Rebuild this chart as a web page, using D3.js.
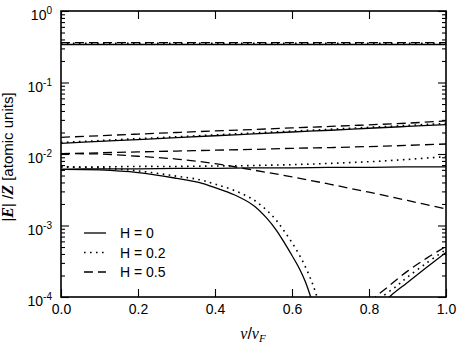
<!DOCTYPE html>
<html><head><meta charset="utf-8">
<script src="https://cdn.jsdelivr.net/npm/d3@7/dist/d3.min.js"></script>
<style>
body{margin:0;background:#fff;}
svg{display:block;font-family:"Liberation Sans",Arial,sans-serif;}
</style></head>
<body><svg id="c" width="458" height="346"></svg>
<script>
// ---- data ----
const xTicks = [0, 0.2, 0.4, 0.6, 0.8, 1.0];
const yTickExps = [0, -1, -2, -3, -4];
const legendLabels = ["H = 0", "H = 0.2", "H = 0.5"];
const xGrid = [0, 0.1, 0.2, 0.3, 0.4, 0.5, 0.6, 0.7, 0.8, 0.9, 1.0];

// H = 0 (solid)
const h0Top   = [0.340, 0.340, 0.340, 0.340, 0.340, 0.340, 0.340, 0.340, 0.340, 0.340, 0.340];
const h0Upper = [0.0141, 0.0150, 0.0159, 0.0169, 0.0180, 0.0191, 0.0203, 0.0215, 0.0229, 0.0243, 0.0258];
const h0Flat  = [0.0061, 0.0062, 0.0062, 0.0063, 0.0063, 0.0064, 0.0064, 0.0065, 0.0065, 0.0066, 0.0066];
const h0FallX = [0, 0.1, 0.2, 0.3, 0.36, 0.4, 0.45, 0.5, 0.535, 0.56, 0.58, 0.6, 0.62, 0.635, 0.648, 0.66];
const h0FallY = [0.0061, 0.0060, 0.0055, 0.00457, 0.00398, 0.00339, 0.00269, 0.00191, 0.00126, 0.00085, 0.000575, 0.00038, 0.000245, 0.000162, 0.000102, 0.000063];
const h0RiseX = [0.84, 0.853, 0.9, 0.95, 1.0];
const h0RiseY = [0.00008, 0.0001, 0.00016, 0.00026, 0.00042];

// H = 0.2 (dotted)
const h2Top   = [0.352, 0.352, 0.352, 0.352, 0.352, 0.352, 0.352, 0.352, 0.352, 0.352, 0.352];
const h2Upper = [0.0145, 0.0154, 0.0164, 0.0174, 0.0185, 0.0197, 0.0209, 0.0222, 0.0236, 0.0251, 0.0268];
const h2Lower = [0.0066, 0.0066, 0.0067, 0.0067, 0.0068, 0.0069, 0.0071, 0.0074, 0.0078, 0.0084, 0.0092];
const h2FallX = [0, 0.1, 0.2, 0.3, 0.36, 0.4, 0.45, 0.5, 0.535, 0.56, 0.58, 0.6, 0.62, 0.64, 0.655, 0.665, 0.675];
const h2FallY = [0.0066, 0.0064, 0.0058, 0.0049, 0.00437, 0.0038, 0.00309, 0.00229, 0.00162, 0.00117, 0.00083, 0.000575, 0.00038, 0.000229, 0.000145, 0.0001, 0.000066];
const h2RiseX = [0.82, 0.834, 0.87, 0.9, 0.95, 1.0];
const h2RiseY = [0.00008, 0.0001, 0.00014, 0.00019, 0.00030, 0.00046];

// H = 0.5 (dashed)
const h5Top    = [0.362, 0.362, 0.362, 0.362, 0.362, 0.362, 0.362, 0.362, 0.362, 0.362, 0.362];
const h5Upper  = [0.0171, 0.0180, 0.0190, 0.0200, 0.0210, 0.0220, 0.0232, 0.0243, 0.0256, 0.0270, 0.0290];
const h5Middle = [0.0101, 0.0104, 0.0107, 0.0110, 0.0113, 0.0116, 0.0120, 0.0123, 0.0127, 0.0132, 0.0138];
const h5Fall   = [0.0101, 0.0100, 0.0093, 0.0085, 0.00733, 0.00596, 0.00479, 0.00376, 0.00292, 0.00224, 0.00170];
const h5RiseX  = [0.80, 0.816, 0.85, 0.9, 0.95, 1.0];
const h5RiseY  = [0.000085, 0.0001, 0.00014, 0.00023, 0.00035, 0.00051];

// ---- drawing ----
const svg = d3.select("#c");
const L = 61, R = 446, T = 11, B = 297;
const x = d3.scaleLinear().domain([0, 1]).range([L, R]);
const y = d3.scaleLog().domain([1e-4, 1]).range([B, T]);

const styles = {
  solid: null,
  dotted: "1.6,4.4",
  dashed: "9,5"
};

svg.append("defs").append("clipPath").attr("id", "clip")
  .append("rect").attr("x", L).attr("y", T).attr("width", R - L).attr("height", B - T);

const series = [
  {xs: xGrid, ys: h0Top, s: "solid"},
  {xs: xGrid, ys: h0Upper, s: "solid"},
  {xs: xGrid, ys: h0Flat, s: "solid"},
  {xs: h0FallX, ys: h0FallY, s: "solid"},
  {xs: h0RiseX, ys: h0RiseY, s: "solid"},
  {xs: xGrid, ys: h2Top, s: "dotted"},
  {xs: xGrid, ys: h2Upper, s: "dotted"},
  {xs: xGrid, ys: h2Lower, s: "dotted"},
  {xs: h2FallX, ys: h2FallY, s: "dotted"},
  {xs: h2RiseX, ys: h2RiseY, s: "dotted"},
  {xs: xGrid, ys: h5Top, s: "dashed"},
  {xs: xGrid, ys: h5Upper, s: "dashed"},
  {xs: xGrid, ys: h5Middle, s: "dashed"},
  {xs: xGrid, ys: h5Fall, s: "dashed"},
  {xs: h5RiseX, ys: h5RiseY, s: "dashed"}
];

const line = d3.line().x(d => x(d[0])).y(d => y(d[1])).curve(d3.curveCatmullRom.alpha(0.5));
const g = svg.append("g").attr("clip-path", "url(#clip)");
series.forEach(sr => {
  const pts = sr.xs.map((v, i) => [v, sr.ys[i]]);
  g.append("path").datum(pts).attr("d", line)
    .attr("fill", "none").attr("stroke", "#000")
    .attr("stroke-width", sr.s === "dotted" ? 1.6 : 1.3)
    .attr("stroke-dasharray", styles[sr.s]);
});

// minor ticks for log axis
const minor = [];
for (let e = -4; e < 0; e++) for (let m = 2; m <= 9; m++) minor.push(m * Math.pow(10, e));

const axisStyle = sel => {
  sel.select(".domain").remove();
  sel.selectAll("line").attr("stroke", "#000").attr("stroke-width", 1.1);
};

// bottom
svg.append("g").attr("transform", `translate(0,${B})`)
  .call(d3.axisBottom(x).tickValues(xTicks).tickSize(-8).tickPadding(7).tickFormat(d3.format(".1f")))
  .call(axisStyle)
  .call(s => s.selectAll("text").attr("font-size", 14).attr("font-family", "Liberation Sans, Arial, sans-serif").attr("fill", "#000"));
// top
svg.append("g").attr("transform", `translate(0,${T})`)
  .call(d3.axisTop(x).tickValues(xTicks).tickSize(-8).tickFormat(""))
  .call(axisStyle);
// left major
const leftAx = svg.append("g").attr("transform", `translate(${L},0)`)
  .call(d3.axisLeft(y).tickValues(yTickExps.map(e => Math.pow(10, e))).tickSize(-8).tickPadding(9).tickFormat(""))
  .call(axisStyle);
leftAx.selectAll(".tick text").each(function(d) {
  const t = d3.select(this).attr("font-size", 14).attr("fill", "#000")
    .attr("font-family", "Liberation Sans, Arial, sans-serif").attr("dy", "0.9em").attr("y", -4);
  t.append("tspan").text("10");
  t.append("tspan").attr("font-size", 10).attr("dy", "-6").text(Math.round(Math.log10(d)));
});
// left minor
svg.append("g").attr("transform", `translate(${L},0)`)
  .call(d3.axisLeft(y).tickValues(minor).tickSize(-4).tickFormat("")).call(axisStyle);
// right major and minor
svg.append("g").attr("transform", `translate(${R},0)`)
  .call(d3.axisRight(y).tickValues(yTickExps.map(e => Math.pow(10, e))).tickSize(-8).tickFormat("")).call(axisStyle);
svg.append("g").attr("transform", `translate(${R},0)`)
  .call(d3.axisRight(y).tickValues(minor).tickSize(-4).tickFormat("")).call(axisStyle);

// frame
svg.append("rect").attr("x", L).attr("y", T).attr("width", R - L).attr("height", B - T)
  .attr("fill", "none").attr("stroke", "#000").attr("stroke-width", 1.6);

// legend
const legendStyles = ["solid", "dotted", "dashed"];
const legY = [233, 252.5, 272];
legendLabels.forEach((lab, i) => {
  svg.append("line").attr("x1", 84).attr("x2", 106).attr("y1", legY[i]).attr("y2", legY[i])
    .attr("stroke", "#000").attr("stroke-width", legendStyles[i] === "dotted" ? 1.6 : 1.3)
    .attr("stroke-dasharray", styles[legendStyles[i]]);
  svg.append("text").attr("x", 120).attr("y", legY[i] + 5).attr("font-size", 14).text(lab);
});

// x label
const xl = svg.append("text").attr("x", 253).attr("y", 339).attr("text-anchor", "middle")
  .attr("font-family", "Liberation Serif, serif").attr("font-style", "italic").attr("font-size", 16);
xl.append("tspan").text("v");
xl.append("tspan").attr("font-family", "Liberation Sans, sans-serif").attr("font-style", "normal").text("/");
xl.append("tspan").text("v");
xl.append("tspan").attr("font-size", 11).attr("dy", 3).text("F");

// y label
const yl = svg.append("text").attr("transform", "translate(13,157) rotate(-90)")
  .attr("text-anchor", "middle").attr("font-size", 15);
yl.append("tspan").text("|");
yl.append("tspan").attr("font-style", "italic").attr("font-weight", "bold").attr("font-family", "Liberation Serif, serif").attr("font-size", 16).text("E");
yl.append("tspan").text("| /");
yl.append("tspan").attr("font-style", "italic").attr("font-weight", "bold").attr("font-family", "Liberation Serif, serif").attr("font-size", 16).text("Z");
yl.append("tspan").text(" [atomic units]");
</script></body></html>
